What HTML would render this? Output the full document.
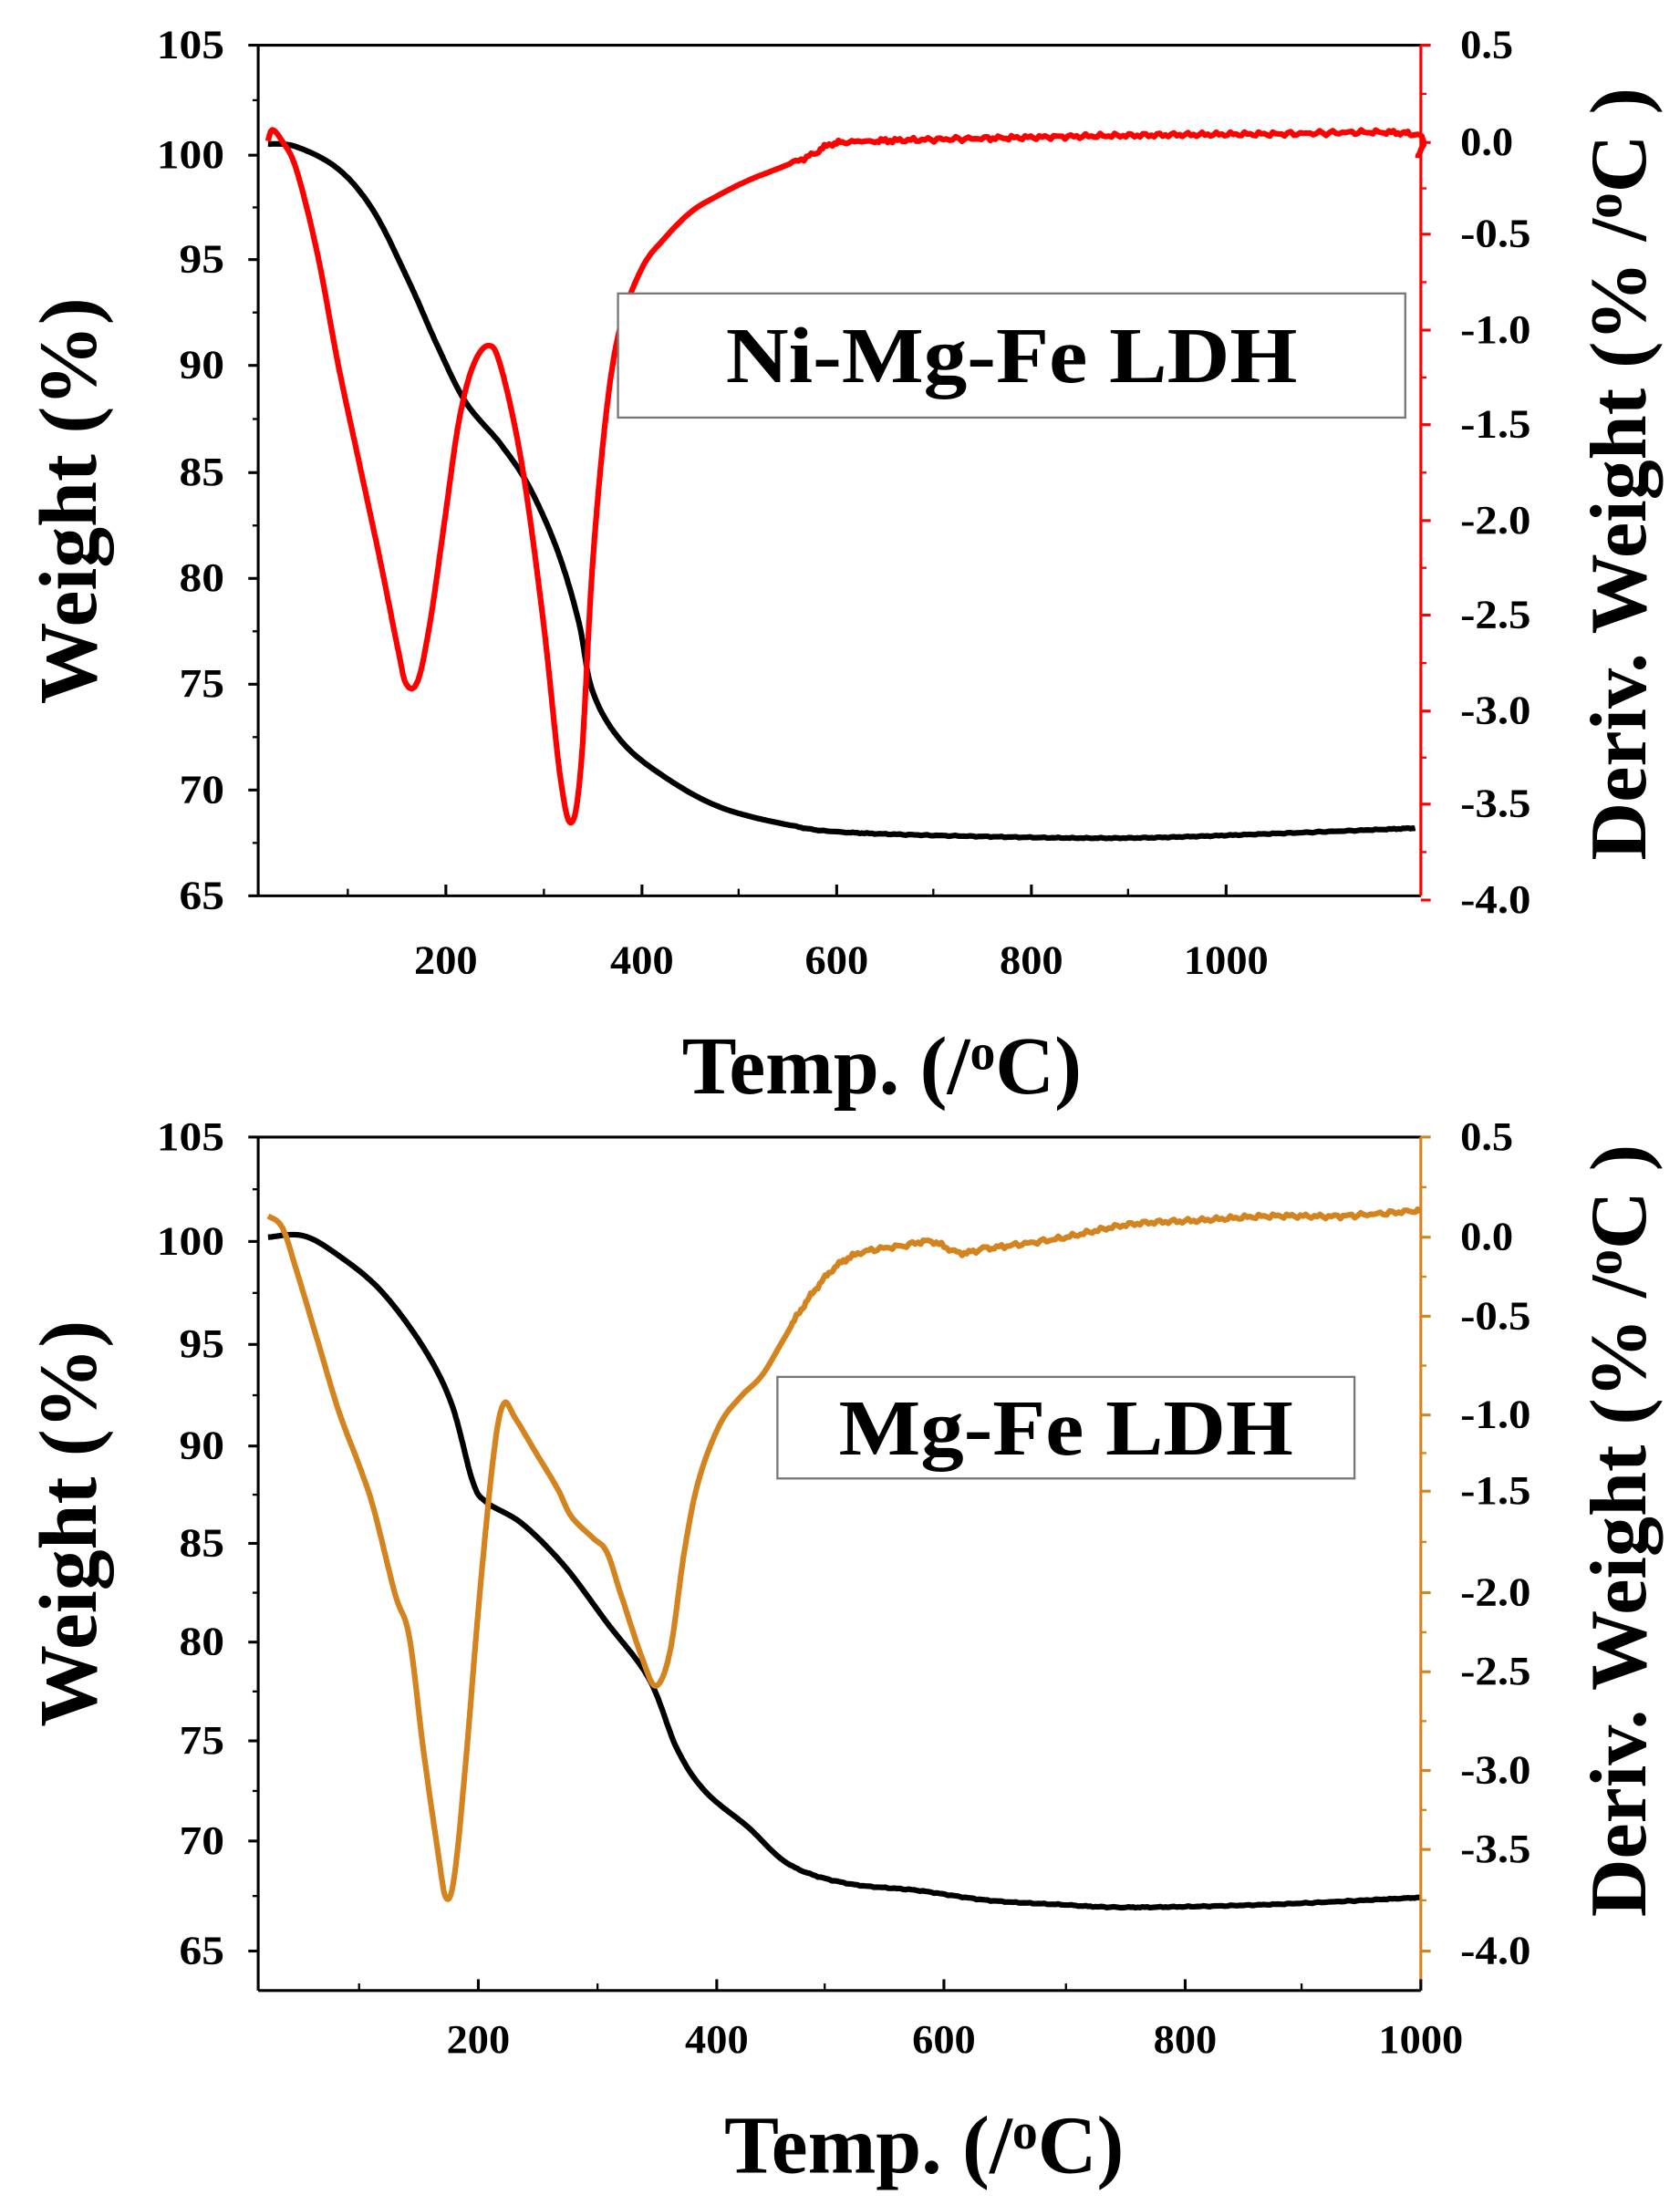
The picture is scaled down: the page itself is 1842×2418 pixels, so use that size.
<!DOCTYPE html>
<html><head><meta charset="utf-8"><style>
html,body{margin:0;padding:0;background:#fff;width:1842px;height:2418px;overflow:hidden}
svg{display:block}
text{font-family:"Liberation Serif",serif;font-weight:bold}
</style></head><body>
<svg id="s" width="1842" height="2418" viewBox="0 0 1190.7 1563" xmlns="http://www.w3.org/2000/svg">
<rect width="1190.7" height="1563" fill="#fff"/>
<g id="g"></g>
</svg>
<script>
var g=document.getElementById('g'),h='';
function line(x1,y1,x2,y2,c,w){h+='<line x1="'+x1+'" y1="'+y1+'" x2="'+x2+'" y2="'+y2+'" stroke="'+c+'" stroke-width="'+w+'"/>';}
function txt(x,y,s,sz,anc,extra){h+='<text x="'+x+'" y="'+y+'" font-size="'+sz+'" text-anchor="'+anc+'" '+(extra||'')+'>'+s+'</text>';}
function poly(pts,c,w,noise){
  // Catmull-Rom smoothing
  var out=[];
  for(var i=0;i<pts.length-1;i++){
    var p0=pts[Math.max(0,i-1)],p1=pts[i],p2=pts[i+1],p3=pts[Math.min(pts.length-1,i+2)];
    var n=Math.max(2,Math.round(Math.hypot(p2[0]-p1[0],p2[1]-p1[1])/2));
    for(var k=0;k<n;k++){var t=k/n,t2=t*t,t3=t2*t;
      var x=0.5*((2*p1[0])+(-p0[0]+p2[0])*t+(2*p0[0]-5*p1[0]+4*p2[0]-p3[0])*t2+(-p0[0]+3*p1[0]-3*p2[0]+p3[0])*t3);
      var y=0.5*((2*p1[1])+(-p0[1]+p2[1])*t+(2*p0[1]-5*p1[1]+4*p2[1]-p3[1])*t2+(-p0[1]+3*p1[1]-3*p2[1]+p3[1])*t3);
      if(noise&&x>560)y+=(Math.sin(x*1.9)+Math.sin(x*0.61))*noise;
      out.push(x.toFixed(1)+','+y.toFixed(1));}
  }
  out.push(pts[pts.length-1].join(','));
  h+='<polyline points="'+out.join(' ')+'" fill="none" stroke="'+c+'" stroke-width="'+w+'" stroke-linejoin="round"/>';
}
function panel(o){
  var L=183,R=1007,T=o.top,B=o.bot,rc=o.rc;
  poly(o.black,'#000',4,0.2);
  poly(o.col,rc,4,o.cn);
  line(L,T,R,T,'#000',2);line(L,B,R,B,'#000',2);line(L,T,L,B,'#000',2);
  line(R,T,R,B,rc,2);
  o.lt.forEach(function(t){line(L-7,t[1],L,t[1],'#000',2);txt(159,t[1]+9,t[0],29,'end','textLength="'+(t[0].length*16)+'" lengthAdjust="spacingAndGlyphs"');});
  for(var i=0;i<o.lt.length-1;i++){var m=(o.lt[i][1]+o.lt[i+1][1])/2;line(L-4,m,L,m,'#000',1.5);}
  o.rt.forEach(function(t){line(R,t[1],R+7,t[1],rc,2);txt(1035,t[1]+9,t[0],29,'start','textLength="'+(t[0].length*12.5)+'" lengthAdjust="spacingAndGlyphs"');});
  for(var i=0;i<o.rt.length-1;i++){var m=(o.rt[i][1]+o.rt[i+1][1])/2;line(R,m,R+4,m,rc,1.5);}
  o.xt.forEach(function(t){line(t[1],B,t[1],B-8,'#000',2);txt(t[1],o.xly,t[0],29,'middle','textLength="'+(t[0].length*15)+'" lengthAdjust="spacingAndGlyphs"');});
  for(var i=0;i<o.xt.length;i++){var m=o.xt[i][1]-(o.xt[1][1]-o.xt[0][1])/2;if(m>L)line(m,B,m,B-5,'#000',1.5);}
  h+='<rect x="'+o.box[0]+'" y="'+o.box[1]+'" width="'+(o.box[2]-o.box[0])+'" height="'+(o.box[3]-o.box[1])+'" fill="#fff" stroke="#777" stroke-width="1.5"/>';
  txt((o.box[0]+o.box[2])/2,(o.box[1]+o.box[3])/2+19,o.label,56,'middle','textLength="'+o.lw+'" lengthAdjust="spacingAndGlyphs"');
  txt(o.xtx,o.xty,'Temp. (/<tspan font-size="36" dy="-17">o</tspan><tspan dy="17">C)</tspan>',58,'middle');
  txt(0,0,'Weight (%)',58,'middle','transform="translate('+68+','+o.wy+') rotate(-90)"');
  txt(0,0,'Deriv. Weight (% /<tspan font-size="37" dy="-17">o</tspan><tspan dy="17">C )</tspan>',57,'middle','transform="translate('+1166+','+o.dy+') rotate(-90)"');
}
panel({top:32,bot:635,rc:'#ff0000',cn:0.9,lw:405,
 black:[[190,102],[210,104],[240,120],[265,150],[290,200],[310,245],[330,285],[355,315],[375,345],[395,390],[410,440],[420,490],[440,525],[470,550],[510,572],[560,585],[600,590],[700,593],[800,594],[900,591],[1003,587]],
 col:[[190,100],[193,92],[200,100],[210,120],[225,180],[240,260],[255,330],[270,400],[282,460],[288,485],[296,483],[305,440],[315,370],[325,300],[335,260],[346,245],[355,260],[370,330],[385,440],[397,550],[405,583],[412,540],[420,400],[430,290],[440,230],[455,190],[470,170],[490,150],[510,138],[530,128],[550,120],[575,110],[590,102],[620,100],[700,98],[800,96],[900,95],[1000,95],[1005,112]],
 lt:[['105',32],['100',110],['95',184],['90',259],['85',335],['80',410],['75',485],['70',560],['65',635]],
 rt:[['0.5',32],['0.0',101],['-0.5',166],['-1.0',234],['-1.5',301],['-2.0',369],['-2.5',436],['-3.0',504],['-3.5',570],['-4.0',638]],
 xt:[['200',316],['400',455],['600',593],['800',731],['1000',869]],xly:690,
 box:[438,208,996,296],label:'Ni-Mg-Fe LDH',xtx:625,xty:775,wy:355,dy:336});
panel({top:806,bot:1411,rc:'#d4841e',cn:0.9,lw:322,
 black:[[190,877],[215,876],[240,890],[270,915],[300,955],[320,995],[335,1050],[345,1065],[370,1080],[400,1110],[430,1150],[460,1190],[480,1240],[500,1270],[530,1295],[560,1322],[600,1335],[650,1340],[700,1347],[750,1350],[800,1352],[900,1350],[1007,1345]],
 col:[[190,862],[200,870],[210,900],[225,950],[240,1000],[255,1040],[265,1070],[280,1130],[290,1160],[300,1240],[310,1310],[316,1345],[322,1330],[330,1250],[340,1130],[350,1030],[357,995],[365,1005],[380,1030],[395,1055],[405,1075],[420,1090],[430,1100],[440,1130],[455,1175],[465,1195],[475,1170],[485,1100],[495,1050],[510,1010],[525,990],[540,975],[555,950],[570,925],[590,900],[610,888],[640,883],[660,880],[680,888],[700,885],[750,878],[800,868],[850,865],[900,862],[950,862],[1007,858]],
 lt:[['105',806],['100',880],['95',953],['90',1025],['85',1094],['80',1164],['75',1234],['70',1305],['65',1383]],
 rt:[['0.5',806],['0.0',877],['-0.5',933],['-1.0',1003],['-1.5',1057],['-2.0',1129],['-2.5',1185],['-3.0',1255],['-3.5',1311],['-4.0',1383]],
 xt:[['200',339],['400',508],['600',669],['800',840],['1000',1007]],xly:1455,
 box:[551,976,960,1048],label:'Mg-Fe LDH',xtx:655,xty:1540,wy:1080,dy:1085});
g.innerHTML=h;
</script>
</body></html>
